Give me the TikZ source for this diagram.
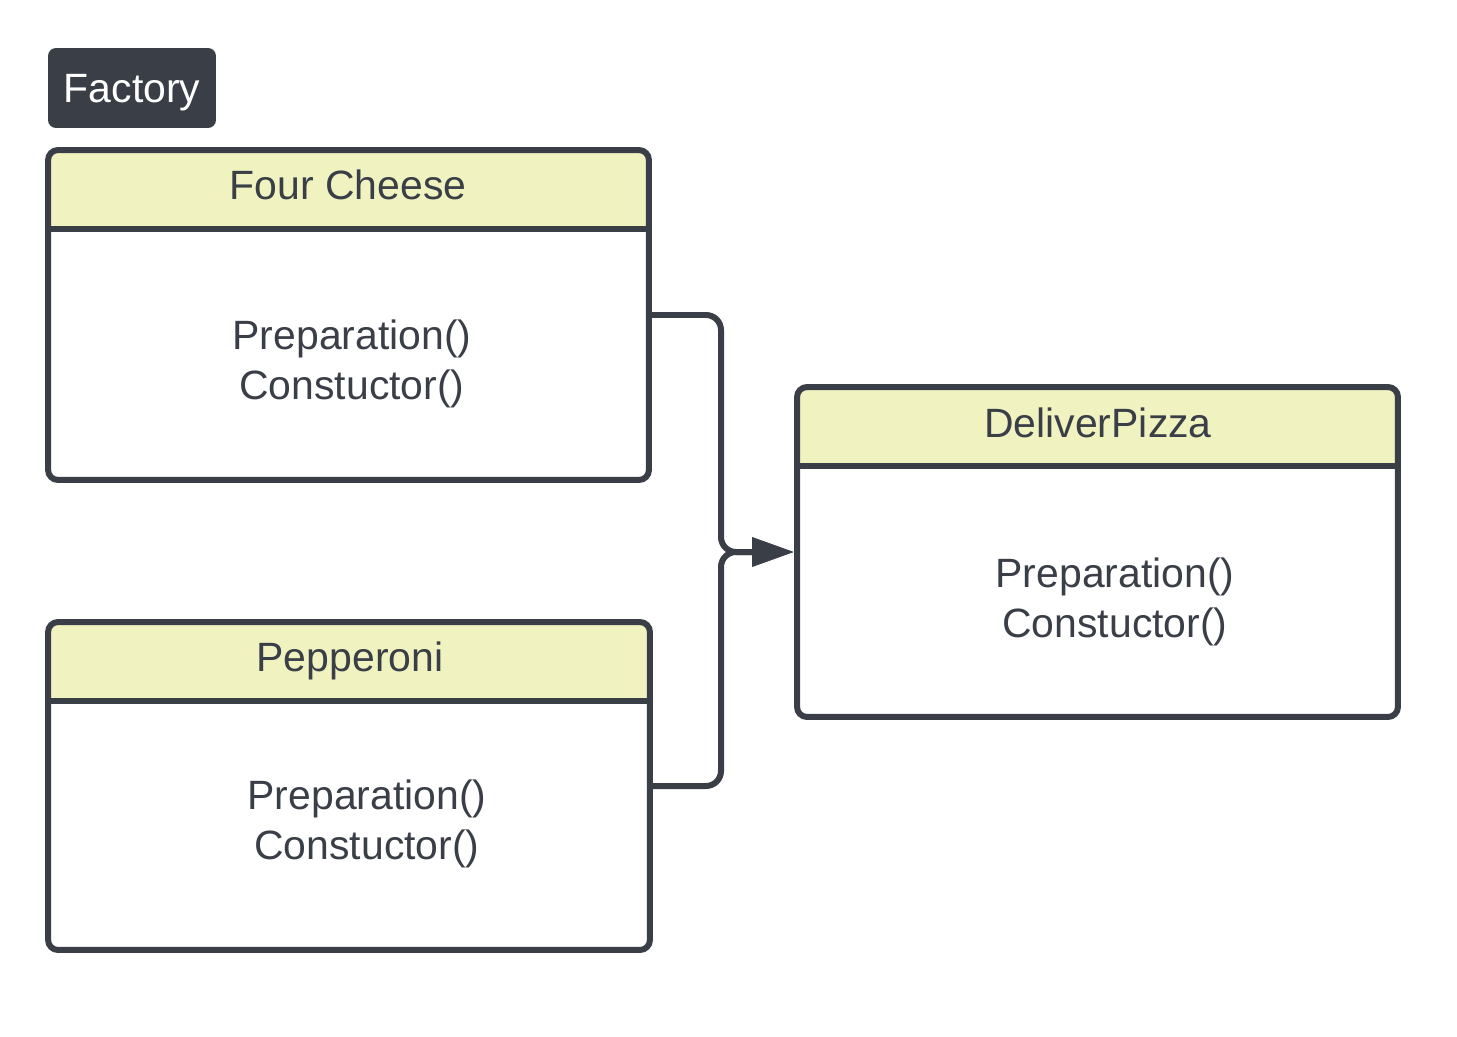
\documentclass[tikz,border=0pt]{standalone}
\usepackage{fontspec}
\setmainfont{Liberation Sans}
\usetikzlibrary{arrows.meta}
\definecolor{ink}{RGB}{58,62,71}
\definecolor{head}{RGB}{240,243,192}
\tikzset{
  classbox/.style={draw=ink, line width=0.12cm, rounded corners=0.2cm,
    minimum width=12.02cm, minimum height=6.6cm, inner sep=0pt,
    path picture={
      \fill[head] (path picture bounding box.north west)
        rectangle ([yshift=-1.58cm]path picture bounding box.north east);
      \draw[ink, line width=0.12cm]
        ([yshift=-1.58cm]path picture bounding box.north west)
        -- ([yshift=-1.58cm]path picture bounding box.north east);
    }},
  txt/.style={text=ink, font=\fontsize{23.3pt}{28.5pt}\selectfont, align=center, inner sep=0pt},
  conn/.style={draw=ink, line width=0.12cm, rounded corners=0.3cm,
    -{Triangle[length=0.84cm, width=0.56cm]}},
}
\begin{document}
\begin{tikzpicture}[x=0.02cm, y=-0.02cm]
  \useasboundingbox (0,0) rectangle (1457,1037);
  % label
  \node[fill=ink, rounded corners=0.16cm, minimum width=3.36cm, minimum height=1.6cm,
    text height=0.75cm, text=white, font=\fontsize{23.3pt}{28pt}\selectfont] (factory) at (132,88) {Factory};
  % boxes
  \node[classbox] (cheese) at (348.5,315) {};
  \node[classbox, minimum width=12.04cm, minimum height=6.56cm] (pepperoni) at (349,786) {};
  \node[classbox] (deliver) at (1097.5,552) {};
  % texts
  \node[txt] (cheesename) at (348,185) {Four Cheese};
  \node[txt] (cheeseops) at (352,364) {Preparation()\\Constuctor()};
  \node[txt] (pepname) at (350,661) {Pepperoni};
  \node[txt] (pepops) at (367,824) {Preparation()\\Constuctor()};
  \node[txt] (delivername) at (1098,423) {DeliverPizza};
  \node[txt] (deliverops) at (1115,602) {Preparation()\\Constuctor()};
  % connectors
  \coordinate (join) at (721,552);
  \draw[conn] (cheese.east) -| (join) -- (deliver.west);
  \draw[conn] (pepperoni.east) -| (join) -- (deliver.west);
\end{tikzpicture}
\end{document}
